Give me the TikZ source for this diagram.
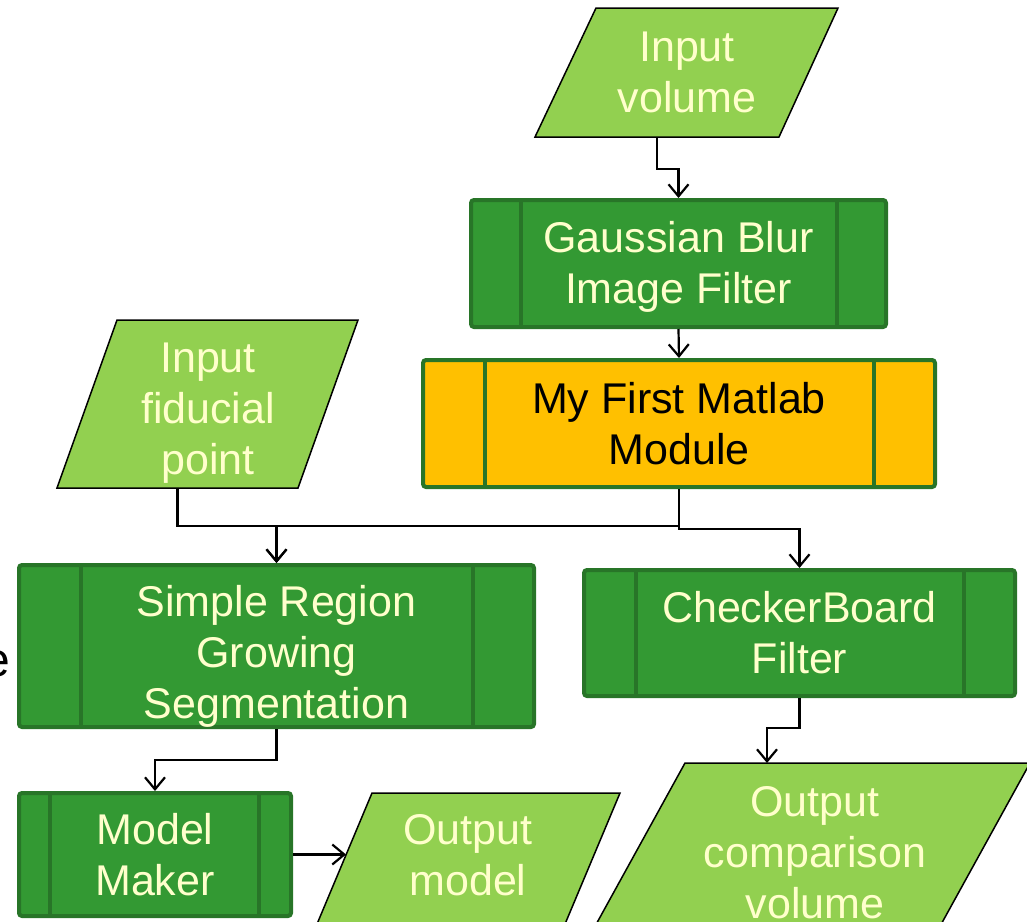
\documentclass[tikz,border=0pt]{standalone}
\usepackage{fontspec}
\setmainfont{Liberation Sans}
\usetikzlibrary{arrows.meta,calc}
\definecolor{lgreen}{HTML}{92D050}
\definecolor{dgreen}{HTML}{339933}
\definecolor{bgreen}{HTML}{287528}
\definecolor{orng}{HTML}{FFC000}
\definecolor{ltext}{HTML}{FFFFCC}
\begin{document}
\begin{tikzpicture}[x=1pt,y=-1pt,
  txt/.style={font=\fontsize{43}{51}\selectfont, align=center, inner sep=0pt},
  procbox/.style={txt, draw=bgreen, line width=4pt, fill=dgreen, rounded corners=3pt, text=ltext},
  mlbox/.style={procbox, fill=orng, text=black},
  boxlabel/.style={txt, text=ltext},
  inline/.style={draw=bgreen, line width=4pt},
  para/.style={fill=lgreen, draw=black, line width=1.5pt},
  paratext/.style={txt, text=ltext},
  arr/.style={draw=black, line width=2.2pt, -{Straight Barb[length=12pt,width=20pt]}}
]
\useasboundingbox (0,0) rectangle (1027,921);

% ---- parallelograms (input / output)
\path[para] (596,8) -- (838,8) -- (779,137) -- (535,137) -- cycle;
\node[paratext] (iv) at (687,72) {Input\\volume};
\coordinate (ivb) at (657,137);

\path[para] (117,320) -- (358,320) -- (298,488) -- (57,488) -- cycle;
\node[paratext] (fid) at (208,413) {Input\\fiducial\\point};
\coordinate (fidb) at (177.5,488);

\path[para] (372,793) -- (620,793) -- (562.5,930) -- (314.5,930) -- cycle;
\node[paratext] (om) at (468,855) {Output\\model};
\coordinate (omw) at (346,854.5);

\path[para] (685,763) -- (1030,763) -- (933,939) -- (588,939) -- cycle;
\node[paratext] (oc) at (815,852.5) {Output\\comparison\\volume};
\coordinate (oct) at (767,763);

% ---- process boxes
\node[procbox, minimum width=415pt, minimum height=127pt,
      label={[boxlabel, yshift=-3pt]center:{Gaussian Blur\\Image Filter}}] (g) at (678.5,263.5) {};
\draw[inline] ([xshift=52pt]g.north west) -- ([xshift=52pt]g.south west);
\draw[inline] ([xshift=-51pt]g.north east) -- ([xshift=-51pt]g.south east);

\node[mlbox, minimum width=512pt, minimum height=127pt] (ml) at (679,423.5) {My First Matlab\\Module};
\draw[inline] ([xshift=64pt]ml.north west) -- ([xshift=64pt]ml.south west);
\draw[inline] ([xshift=-63pt]ml.north east) -- ([xshift=-63pt]ml.south east);

\node[procbox, minimum width=515pt, minimum height=162pt,
      label={[boxlabel, yshift=-10pt]center:{Simple Region\\Growing\\Segmentation}}] (sr) at (276.5,646) {};
\draw[inline] ([xshift=64pt]sr.north west) -- ([xshift=64pt]sr.south west);
\draw[inline] ([xshift=-63pt]sr.north east) -- ([xshift=-63pt]sr.south east);

\node[procbox, minimum width=431pt, minimum height=126pt] (cb) at (799.5,633) {CheckerBoard\\Filter};
\draw[inline] ([xshift=54pt]cb.north west) -- ([xshift=54pt]cb.south west);
\draw[inline] ([xshift=-53pt]cb.north east) -- ([xshift=-53pt]cb.south east);

\node[procbox, minimum width=272pt, minimum height=123pt] (mm) at (155,854.5) {Model\\Maker};
\draw[inline] ([xshift=33pt]mm.north west) -- ([xshift=33pt]mm.south west);
\draw[inline] ([xshift=-34pt]mm.north east) -- ([xshift=-34pt]mm.south east);

% ---- cut-off text at the left edge
\node[font=\fontsize{48}{50}\selectfont, anchor=base east, inner sep=0pt] (ecut) at (10,676) {e};

% ---- connectors
\draw[arr] (ivb) -- ++(0,32) -| (g.north);
\draw[arr] (g.south) -- (ml.north);
\draw[arr] (fidb) -- ++(0,38) -| (sr.north);
\draw[arr] (ml.south) -- ++(0,37) -| (sr.north);
\draw[arr] (ml.south) -- ++(0,40) -| (cb.north);
\draw[arr] (cb.south) -- ++(0,30) -| (oct);
\draw[arr] (sr.south) -- ++(0,31) -| (mm.north);
\draw[arr] (mm.east) -- (omw);
\end{tikzpicture}
\end{document}
